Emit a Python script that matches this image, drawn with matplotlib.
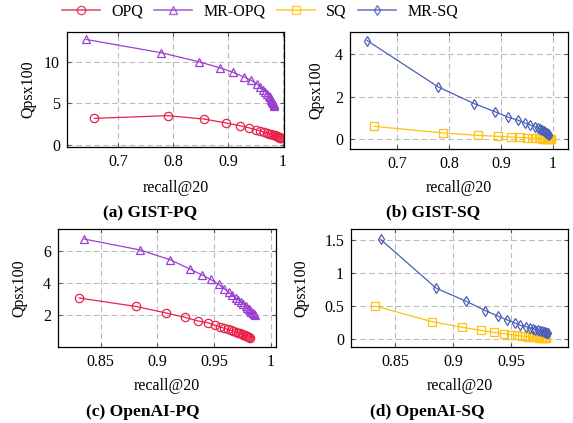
import matplotlib
matplotlib.use("Agg")
import matplotlib.pyplot as plt
from matplotlib.lines import Line2D

plt.rcParams['font.family'] = ['Liberation Serif', 'DejaVu Serif']
plt.rcParams['font.size'] = 11

# colours
c_opq = '#e8234a'
c_mropq = '#9a3fd0'
c_sq = '#ffc20e'
c_mrsq = '#4a5fb5'

# (a) GIST-PQ
gist_opq_x = [0.657, 0.790, 0.856, 0.897, 0.921, 0.939, 0.951, 0.959, 0.966, 0.971, 0.975,
              0.979, 0.982, 0.985, 0.987, 0.989, 0.991, 0.992, 0.993, 0.994, 0.995, 0.996]
gist_opq_y = [3.21, 3.53, 3.13, 2.65, 2.33, 2.05, 1.85, 1.68, 1.55, 1.45, 1.37,
              1.29, 1.22, 1.16, 1.10, 1.05, 1.00, 0.96, 0.93, 0.90, 0.87, 0.84]
gist_mropq_x = [0.642, 0.779, 0.848, 0.886, 0.909, 0.929, 0.942, 0.952, 0.959, 0.964, 0.968,
                0.971, 0.974, 0.976, 0.978, 0.979, 0.980, 0.981, 0.982, 0.983, 0.9835, 0.984]
gist_mropq_y = [12.7, 11.1, 10.0, 9.28, 8.76, 8.19, 7.80, 7.40, 6.95, 6.65, 6.40,
                6.15, 5.95, 5.75, 5.55, 5.40, 5.25, 5.12, 5.00, 4.90, 4.82, 4.74]

# (b) GIST-SQ
gist_sq_x = [0.656, 0.788, 0.855, 0.895, 0.919, 0.937, 0.950, 0.960, 0.968, 0.974,
             0.979, 0.983, 0.986, 0.989, 0.991, 0.993, 0.995, 0.996, 0.997]
gist_sq_y = [0.61, 0.30, 0.19, 0.14, 0.11, 0.09, 0.075, 0.065, 0.055, 0.047,
             0.040, 0.034, 0.029, 0.024, 0.020, 0.015, 0.010, 0.006, 0.003]
gist_mrsq_x = [0.642, 0.779, 0.848, 0.888, 0.913, 0.934, 0.946, 0.957, 0.966, 0.972,
               0.976, 0.980, 0.983, 0.985, 0.987, 0.989, 0.990, 0.991, 0.992, 0.993]
gist_mrsq_y = [4.63, 2.46, 1.68, 1.30, 1.05, 0.89, 0.77, 0.67, 0.58, 0.52,
               0.47, 0.42, 0.38, 0.35, 0.32, 0.29, 0.26, 0.24, 0.21, 0.19]

# (c) OpenAI-PQ
oai_opq_x = [0.831, 0.881, 0.908, 0.924, 0.936, 0.945, 0.951, 0.9555, 0.959, 0.962, 0.965, 0.967,
             0.969, 0.971, 0.973, 0.975, 0.976, 0.977, 0.978, 0.979, 0.980, 0.981, 0.982]
oai_opq_y = [3.07, 2.55, 2.14, 1.88, 1.65, 1.53, 1.38, 1.28, 1.20, 1.13, 1.07, 1.02,
             0.97, 0.92, 0.88, 0.84, 0.80, 0.76, 0.73, 0.70, 0.67, 0.64, 0.61]
oai_mropq_x = [0.8354, 0.885, 0.9115, 0.9285, 0.9393, 0.947, 0.954, 0.959, 0.963, 0.966, 0.969,
               0.9715, 0.974, 0.976, 0.978, 0.9795, 0.981, 0.982, 0.983, 0.984, 0.985, 0.986]
oai_mropq_y = [6.72, 6.04, 5.43, 4.87, 4.50, 4.22, 3.91, 3.64, 3.44, 3.23, 3.07,
               2.93, 2.80, 2.68, 2.57, 2.47, 2.38, 2.30, 2.22, 2.15, 2.09, 2.04]

# (d) OpenAI-SQ
oai_sq_x = [0.833, 0.882, 0.908, 0.924, 0.935, 0.944, 0.950, 0.955, 0.959, 0.962,
            0.965, 0.968, 0.970, 0.972, 0.974, 0.976, 0.977, 0.978, 0.979, 0.980]
oai_sq_y = [0.50, 0.264, 0.178, 0.132, 0.10, 0.081, 0.066, 0.056, 0.048, 0.042,
            0.037, 0.033, 0.029, 0.026, 0.023, 0.020, 0.017, 0.015, 0.012, 0.010]
oai_mrsq_x = [0.8377, 0.8856, 0.9116, 0.928, 0.939, 0.9466, 0.953, 0.958, 0.963, 0.966,
              0.969, 0.971, 0.973, 0.975, 0.977, 0.978, 0.979, 0.980, 0.981, 0.982]
oai_mrsq_y = [1.51, 0.77, 0.57, 0.43, 0.345, 0.29, 0.244, 0.208, 0.188, 0.170,
              0.155, 0.143, 0.133, 0.125, 0.117, 0.110, 0.104, 0.099, 0.094, 0.09]

fig = plt.figure(figsize=(5.73, 4.23), dpi=100)
W, H = 573.0, 423.0


def make_ax(left, right, top, bottom):
    return fig.add_axes([left / W, (H - bottom) / H, (right - left) / W, (bottom - top) / H])


def style(ax):
    ax.grid(True, color='#bcbcbc', linestyle=(0, (5, 3)), linewidth=0.8)
    ax.set_axisbelow(True)
    ax.tick_params(direction='in', length=3, top=True, right=True, labelsize=11.5,
                   color='#555555', pad=5)
    for s in ax.spines.values():
        s.set_linewidth(0.9)


def plot_series(ax, x, y, color, marker, ms):
    ax.plot(x, y, color=color, linewidth=0.9, marker=marker, markersize=ms,
            markerfacecolor='none', markeredgecolor=color, markeredgewidth=0.9)


ax_a = make_ax(67, 284, 32, 147)
plot_series(ax_a, gist_opq_x, gist_opq_y, c_opq, 'o', 6)
plot_series(ax_a, gist_mropq_x, gist_mropq_y, c_mropq, '^', 5.5)
ax_a.set_xlim(0.607, 1.002)
ax_a.set_ylim(-0.24, 13.6)
ax_a.set_xticks([0.7, 0.8, 0.9, 1.0])
ax_a.set_xticklabels(['0.7', '0.8', '0.9', '1'])
ax_a.set_yticks([0, 5, 10])

ax_b = make_ax(350, 568, 32, 149)
plot_series(ax_b, gist_sq_x, gist_sq_y, c_sq, 's', 6)
plot_series(ax_b, gist_mrsq_x, gist_mrsq_y, c_mrsq, 'd', 5.5)
ax_b.set_xlim(0.609, 1.0295)
ax_b.set_ylim(-0.45, 5.03)
ax_b.set_xticks([0.7, 0.8, 0.9, 1.0])
ax_b.set_xticklabels(['0.7', '0.8', '0.9', '1'])
ax_b.set_yticks([0, 2, 4])

ax_c = make_ax(58, 276, 229, 347)
plot_series(ax_c, oai_opq_x, oai_opq_y, c_opq, 'o', 6)
plot_series(ax_c, oai_mropq_x, oai_mropq_y, c_mropq, '^', 5.5)
ax_c.set_xlim(0.8123, 1.0047)
ax_c.set_ylim(0.04, 7.34)
ax_c.set_xticks([0.85, 0.9, 0.95, 1.0])
ax_c.set_xticklabels(['0.85', '0.9', '0.95', '1'])
ax_c.set_yticks([2, 4, 6])

ax_d = make_ax(351, 568, 229, 347)
plot_series(ax_d, oai_sq_x, oai_sq_y, c_sq, 's', 6)
plot_series(ax_d, oai_mrsq_x, oai_mrsq_y, c_mrsq, 'd', 5.5)
ax_d.set_xlim(0.8123, 0.999)
ax_d.set_ylim(-0.12, 1.666)
ax_d.set_xticks([0.85, 0.9, 0.95])
ax_d.set_xticklabels(['0.85', '0.9', '0.95'])
ax_d.set_yticks([0, 0.5, 1, 1.5])
ax_d.set_yticklabels(['0', '0.5', '1', '1.5'])

for ax in [ax_a, ax_b, ax_c, ax_d]:
    style(ax)

# y labels
for ax, xl in [(ax_a, -0.143), (ax_b, -0.119), (ax_c, -0.142), (ax_d, -0.194)]:
    ax.set_ylabel('Qpsx100', fontsize=11.5)
    ax.yaxis.set_label_coords(xl, 0.5)

# x labels and captions
fig.text(175.5 / W, 1 - 188 / H, 'recall@20', ha='center', va='center', fontsize=11.5)
fig.text(459 / W, 1 - 188 / H, 'recall@20', ha='center', va='center', fontsize=11.5)
fig.text(167 / W, 1 - 386 / H, 'recall@20', ha='center', va='center', fontsize=11.5)
fig.text(459.5 / W, 1 - 386 / H, 'recall@20', ha='center', va='center', fontsize=11.5)

fig.text(150 / W, 1 - 213 / H, '(a) GIST-PQ', ha='center', va='center', fontsize=12.5, fontweight='bold')
fig.text(433 / W, 1 - 212 / H, '(b) GIST-SQ', ha='center', va='center', fontsize=12.5, fontweight='bold')
fig.text(143 / W, 1 - 412 / H, '(c) OpenAI-PQ', ha='center', va='center', fontsize=12.5, fontweight='bold')
fig.text(427 / W, 1 - 412 / H, '(d) OpenAI-SQ', ha='center', va='center', fontsize=12.5, fontweight='bold')

# legend
handles = [
    Line2D([], [], color=c_opq, marker='o', markersize=6, markerfacecolor='none', linewidth=1.2, alpha=0.8),
    Line2D([], [], color=c_mropq, marker='^', markersize=5.5, markerfacecolor='none', linewidth=1.2, alpha=0.8),
    Line2D([], [], color=c_sq, marker='s', markersize=6, markerfacecolor='none', linewidth=1.2, alpha=0.8),
    Line2D([], [], color=c_mrsq, marker='d', markersize=5.5, markerfacecolor='none', linewidth=1.2, alpha=0.8),
]
fig.legend(handles, ['OPQ', 'MR-OPQ', 'SQ', 'MR-SQ'], loc='center', bbox_to_anchor=(260 / W, 1 - 12 / H),
           ncol=4, frameon=False, fontsize=11.5, handlelength=2.4, columnspacing=0.7, handletextpad=0.7)

fig.savefig('out.png', dpi=100)
